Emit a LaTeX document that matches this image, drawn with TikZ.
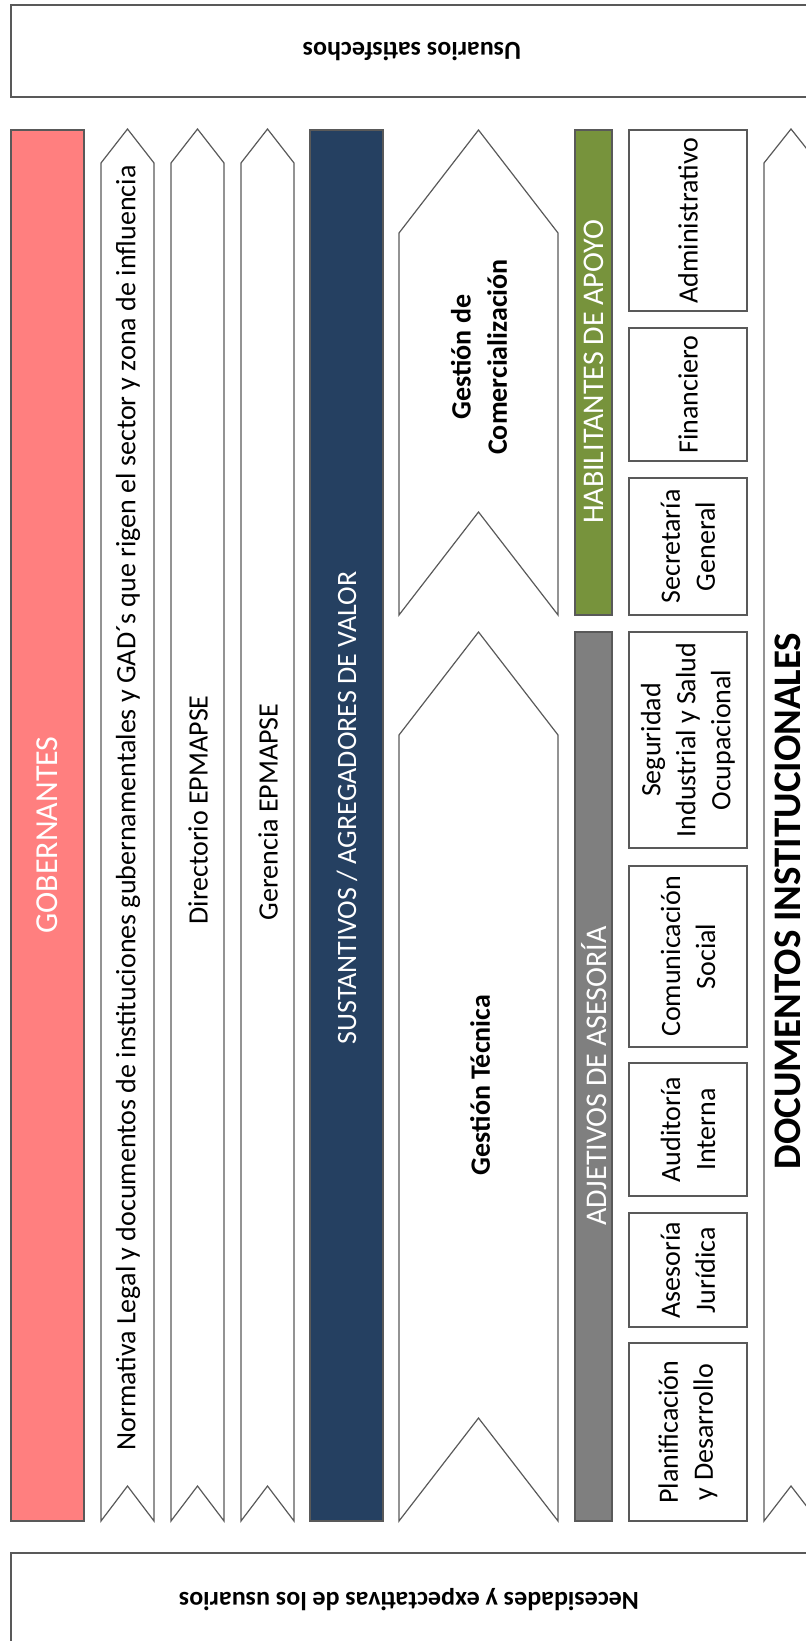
\documentclass[tikz,border=0pt]{standalone}
\usepackage{fontspec}
\setmainfont{Carlito}
\definecolor{gobpink}{HTML}{FF7F7F}
\definecolor{sustblue}{HTML}{254061}
\definecolor{apoyogreen}{HTML}{77933C}
\definecolor{asesgray}{HTML}{7F7F7F}
\definecolor{edgegray}{HTML}{595959}
\begin{document}
\begin{tikzpicture}[x=0.5pt,y=-0.5pt,
    outline/.style={draw=edgegray,line width=0.6pt},
    bartext/.style={rotate=90,text=white,font=\fontsize{14}{17}\selectfont},
    unittext/.style={rotate=90,align=center,font=\fontsize{14}{17.5}\selectfont},
    headtext/.style={rotate=180,font=\bfseries\fontsize{13}{16}\selectfont}]
  \useasboundingbox (0,0) rectangle (806,1641);
  % entrada y salida
  \draw[outline] (11,5) rectangle (830,97);
  \draw[outline] (11,1553) rectangle (830,1660);
  \node[headtext] (sat) at (412,52) {Usuarios satisfechos};
  \node[headtext] (nec) at (409,1600) {Necesidades y expectativas de los usuarios};
  % barras de color
  \draw[outline,fill=gobpink] (11,130) rectangle (84,1521);
  \draw[outline,fill=sustblue] (310,130) rectangle (383,1521);
  \draw[outline,fill=apoyogreen] (575,130) rectangle (612,615);
  \draw[outline,fill=asesgray] (575,632) rectangle (612,1521);
  \node[bartext,font=\fontsize{16}{19}\selectfont] (gob) at (47,835) {GOBERNANTES};
  \node[bartext] (sust) at (347,808) {SUSTANTIVOS / AGREGADORES DE VALOR};
  \node[bartext,font=\fontsize{15}{18}\selectfont] (apoyo) at (594,372) {HABILITANTES DE APOYO};
  \node[bartext,font=\fontsize{15}{18}\selectfont] (asesoria) at (594,1076) {ADJETIVOS DE ASESORÍA};
  % flechas
  \draw[outline] (101,163) -- (127.5,129) -- (154,163) -- (154,1521) -- (127.5,1486) -- (101,1521) -- cycle;
  \draw[outline] (171,163) -- (197.5,129) -- (224,163) -- (224,1521) -- (197.5,1486) -- (171,1521) -- cycle;
  \draw[outline] (241,163) -- (267.5,129) -- (294,163) -- (294,1521) -- (267.5,1486) -- (241,1521) -- cycle;
  \draw[outline] (399,233) -- (478.5,130) -- (558,233) -- (558,615) -- (478.5,512) -- (399,615) -- cycle;
  \draw[outline] (399,735) -- (478.5,632) -- (558,735) -- (558,1521) -- (478.5,1418) -- (399,1521) -- cycle;
  \draw[outline] (764,163) -- (791,129) -- (818,163) -- (818,1521) -- (791,1486) -- (764,1521) -- cycle;
  \node[unittext] (normativa) at (128,808)
    {Normativa Legal y documentos de instituciones gubernamentales y GAD´s que rigen el sector y zona de influencia};
  \node[unittext] (directorio) at (198,810) {Directorio EPMAPSE};
  \node[unittext] (gerencia) at (268,812) {Gerencia EPMAPSE};
  \node[unittext,font=\bfseries\fontsize{14}{18}\selectfont] (comercial) at (479,357) {Gestión de\\Comercialización};
  \node[unittext,font=\bfseries\fontsize{14}{17}\selectfont] (tecnica) at (480,1085) {Gestión Técnica};
  \node[rotate=90,anchor=base,inner sep=0pt,font=\bfseries\fontsize{19.5}{22}\selectfont] (docs) at (800,901) {DOCUMENTOS INSTITUCIONALES};
  % unidades
  \draw[outline] (629,130) rectangle (747,311);
  \draw[outline] (629,328) rectangle (747,461);
  \draw[outline] (629,478) rectangle (747,615);
  \draw[outline] (629,632) rectangle (747,848);
  \draw[outline] (629,866) rectangle (747,1047);
  \draw[outline] (629,1063) rectangle (747,1196);
  \draw[outline] (629,1213) rectangle (747,1327);
  \draw[outline] (629,1343) rectangle (747,1521);
  \node[unittext] (admin) at (688,220.5) {Administrativo};
  \node[unittext] (financiero) at (688,394.5) {Financiero};
  \node[unittext] (secretaria) at (688,546.5) {Secretaría\\General};
  \node[unittext] (seguridad) at (688,740) {Seguridad\\Industrial y Salud\\Ocupacional};
  \node[unittext] (comunicacion) at (688,956.5) {Comunicación\\Social};
  \node[unittext] (auditoria) at (688,1129.5) {Auditoría\\Interna};
  \node[unittext] (juridica) at (688,1270) {Asesoría\\Jurídica};
  \node[unittext] (planificacion) at (688,1432) {Planificación\\y Desarrollo};
\end{tikzpicture}
\end{document}
